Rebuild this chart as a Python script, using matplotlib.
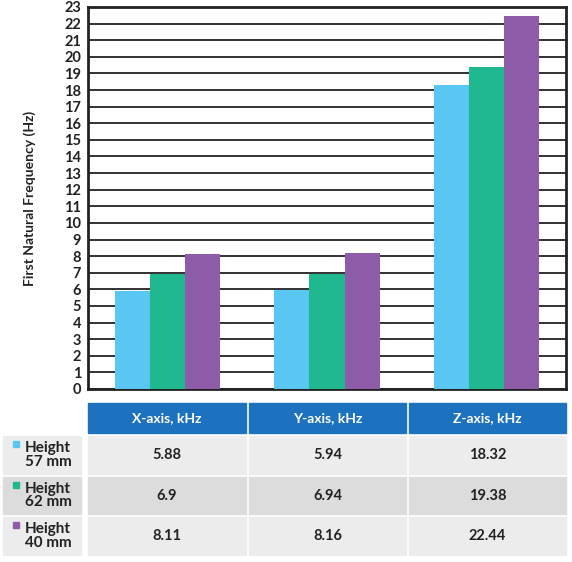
import numpy as np
import matplotlib.pyplot as plt
from matplotlib.patches import Rectangle

W, H = 572, 562

axes_names = ['X-axis, kHz', 'Y-axis, kHz', 'Z-axis, kHz']
series_names = ['Height\n57 mm', 'Height\n62 mm', 'Height\n40 mm']
h57 = [5.88, 5.94, 18.32]
h62 = [6.9, 6.94, 19.38]
h40 = [8.11, 8.16, 22.44]
h57_txt = ['5.88', '5.94', '18.32']
h62_txt = ['6.9', '6.94', '19.38']
h40_txt = ['8.11', '8.16', '22.44']
y_ticks = list(range(0, 24))

COLORS = ['#5ac6f4', '#20b88e', '#8d5ba8']
HEADER = '#1d72bf'
FONT = 'Lato'

fig = plt.figure(figsize=(W / 100, H / 100), dpi=100)
fig.patch.set_facecolor('white')


def fx(px):
    return px / W


def fy(py):
    return 1 - py / H


# --- bar chart ---
ax = fig.add_axes([fx(88), fy(389), fx(566) - fx(88), fy(7) - fy(389)])
x = np.arange(len(axes_names))
bw = 0.22
for i, vals in enumerate([h57, h62, h40]):
    ax.bar(x + (i - 1) * bw, vals, width=bw, color=COLORS[i],
           edgecolor='none', zorder=3)

ax.set_xlim(-0.5, 2.5)
ax.set_ylim(0, 23)
ax.set_yticks(y_ticks)
ax.set_yticklabels([str(t) for t in y_ticks], fontsize=10.5,
                   fontweight='bold', family=FONT, color='#222222')
ax.set_xticks([])
ax.tick_params(axis='y', length=0, pad=5)
ax.grid(axis='y', color='#222222', linewidth=1.3, zorder=1)
for sp in ax.spines.values():
    sp.set_linewidth(2)
    sp.set_color('#222222')
ax.set_ylabel('First Natural Frequency (Hz)', fontsize=10, fontweight='bold',
              family=FONT, color='#222222', labelpad=20)

# --- data table below ---
col_x = [(3, 81), (88, 246), (249, 406), (409, 566)]
header_y = (403, 433)
rows_y = [(436, 474), (477, 514), (517, 555)]
row_bg = ['#ececec', '#dcdcdc', '#ececec']

for (x0, x1), name in zip(col_x[1:], axes_names):
    fig.patches.append(Rectangle((fx(x0), fy(header_y[1])), fx(x1) - fx(x0),
                                 fy(header_y[0]) - fy(header_y[1]),
                                 transform=fig.transFigure, color=HEADER))
    fig.text(fx((x0 + x1) / 2), fy(sum(header_y) / 2), name, color='white',
             fontsize=10, fontweight='bold', family=FONT,
             ha='center', va='center')

for r, (vals, label) in enumerate(zip([h57_txt, h62_txt, h40_txt], series_names)):
    y0, y1 = rows_y[r]
    for c, (x0, x1) in enumerate(col_x):
        fig.patches.append(Rectangle((fx(x0), fy(y1)), fx(x1) - fx(x0),
                                     fy(y0) - fy(y1), transform=fig.transFigure,
                                     color=row_bg[r]))
        if c > 0:
            fig.text(fx((x0 + x1) / 2), fy((y0 + y1) / 2), vals[c - 1],
                     fontsize=10.5, fontweight='bold', family=FONT,
                     color='#222222', ha='center', va='center')
    # legend swatch + label
    fig.patches.append(Rectangle((fx(13), fy(y0 + 11)), fx(6), fy(0) - fy(6),
                                 transform=fig.transFigure, color=COLORS[r]))
    fig.text(fx(25), fy((y0 + y1) / 2), label, fontsize=11, fontweight='bold',
             family=FONT, color='#222222', ha='left', va='center',
             linespacing=1.0)

fig.savefig('out.png', dpi=100, facecolor='white')
